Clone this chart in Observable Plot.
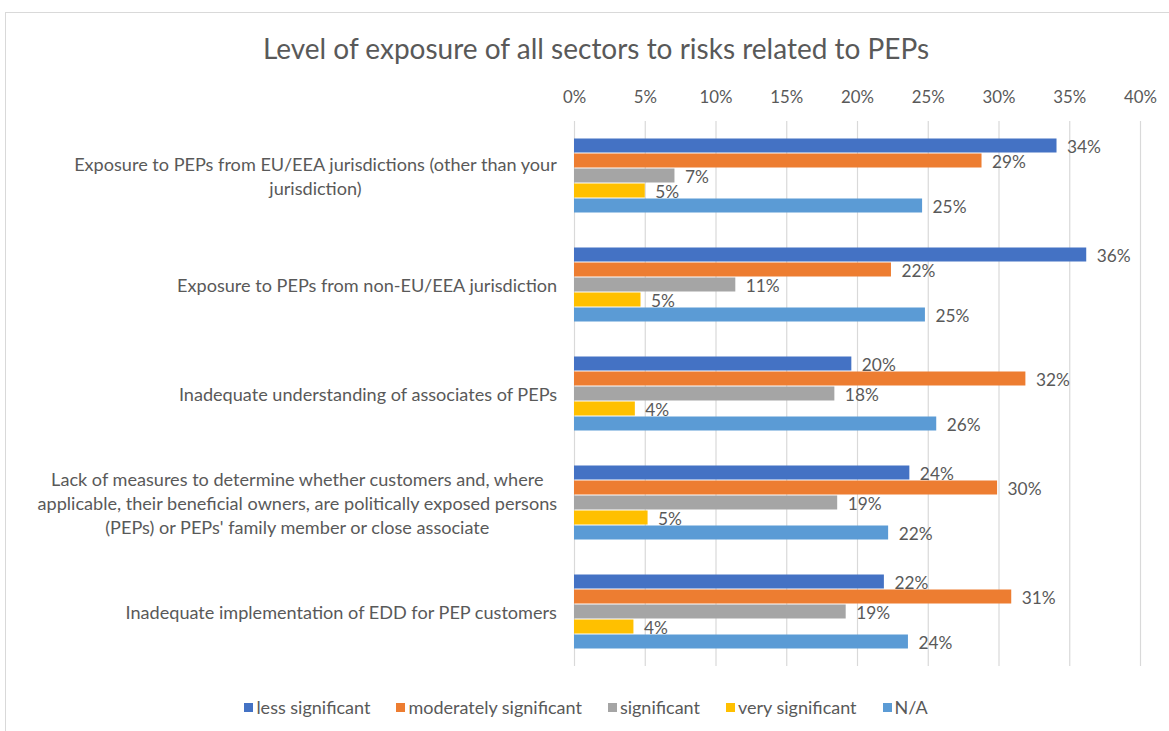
<!DOCTYPE html>
<html>
<head>
<meta charset="utf-8">
<script src="https://cdn.jsdelivr.net/npm/d3@7"></script>
<script src="https://cdn.jsdelivr.net/npm/@observablehq/plot@0.6"></script>
<style>
  body { margin: 0; background: #fff; font-family: Lato, sans-serif; }
  #frame { position: absolute; left: 5px; top: 12px; width: 1170px; height: 730px; border: 1px solid #d9d9d9; box-sizing: border-box; }
  #title { position: absolute; left: 0; top: 29px; width: 1192px; text-align: center; color: #595959; line-height: 38px; }
  #chart { position: absolute; left: 0; top: 75px; }
  #legend { position: absolute; left: 0; top: 695px; width: 1172px; display: flex; justify-content: center; gap: 26px; color: #595959; line-height: 24px; }
  #legend span.item { display: flex; align-items: center; gap: 3px; }
  #legend span.sw { width: 9px; height: 9px; display: inline-block; }
</style>
</head>
<body>
<div id="frame"></div>
<div id="title">Level of exposure of all sectors to risks related to PEPs</div>
<div id="chart"></div>
<div id="legend"></div>
<script>
const categories = [
  "Exposure to PEPs from EU/EEA jurisdictions (other than your jurisdiction)",
  "Exposure to PEPs from non-EU/EEA jurisdiction",
  "Inadequate understanding of associates of PEPs",
  "Lack of measures to determine whether customers and, where applicable, their beneficial owners, are politically exposed persons (PEPs) or PEPs' family member or close associate",
  "Inadequate implementation of EDD for PEP customers"
];
const categoryLines = [
  ["Exposure to PEPs from EU/EEA jurisdictions (other than your", "jurisdiction)"],
  ["Exposure to PEPs from non-EU/EEA jurisdiction"],
  ["Inadequate understanding of associates of PEPs"],
  ["Lack of measures to determine whether customers and, where", "applicable, their beneficial owners, are politically exposed persons", "(PEPs) or PEPs' family member or close associate"],
  ["Inadequate implementation of EDD for PEP customers"]
];
const series = ["less significant", "moderately significant", "significant", "very significant", "N/A"];
const colors = ["#4472C4", "#ED7D31", "#A5A5A5", "#FFC000", "#5B9BD5"];
// values in percent, per series, in category order
const lessSignificant = [34.1, 36.2, 19.6, 23.7, 21.9];
const moderatelySignificant = [28.8, 22.4, 31.9, 29.9, 30.9];
const significant = [7.1, 11.4, 18.4, 18.6, 19.2];
const verySignificant = [5.0, 4.7, 4.3, 5.2, 4.2];
const notApplicable = [24.6, 24.8, 25.6, 22.2, 23.6];
const xTicks = [0, 5, 10, 15, 20, 25, 30, 35, 40];

const seriesValues = [lessSignificant, moderatelySignificant, significant, verySignificant, notApplicable];
const data = [];
categories.forEach((c, i) => {
  series.forEach((s, j) => data.push({cat: c, series: s, value: seriesValues[j][i]}));
});

const FONT = 'Lato, sans-serif';
const ctx = document.createElement("canvas").getContext("2d");
function fit(text, target) {
  ctx.font = `100px ${FONT}`;
  return Math.round(100 * target / ctx.measureText(text).width * 10) / 10;
}
const titleSize = fit("Level of exposure of all sectors to risks related to PEPs", 668);
const catSize = fit("Inadequate implementation of EDD for PEP customers", 433);
const tickSize = fit("35%", 33);
const valueSize = fit("34%", 34);
const legendSize = fit("less significant", 114);

document.getElementById("title").style.fontSize = titleSize + "px";
document.getElementById("legend").style.fontSize = legendSize + "px";

ctx.font = `${catSize}px ${FONT}`;
const blockWidths = categoryLines.map(lines => Math.max(...lines.map(l => ctx.measureText(l).width)));

const labelMarks = categories.map((c, i) => Plot.text([c], {
  fy: d => d,
  frameAnchor: "left",
  text: () => categoryLines[i].join("\n"),
  textAnchor: "middle",
  dx: -(17 + blockWidths[i] / 2),
  dy: -1,
  lineHeight: 24 / catSize,
  fontSize: catSize,
  fill: "#595959"
}));

const chart = Plot.plot({
  width: 1169,
  height: 611,
  marginTop: 45,
  marginBottom: 20,
  marginLeft: 574,
  marginRight: 29,
  style: {fontFamily: FONT, fontSize: tickSize + "px", color: "#595959", background: "transparent"},
  x: {domain: [0, 40], ticks: xTicks, tickFormat: d => d + "%", axis: "top", tickSize: 0, tickPadding: 19, label: null},
  y: {domain: series, paddingInner: 0, paddingOuter: 0.91, axis: null},
  fy: {domain: categories, padding: 0, axis: null},
  color: {domain: series, range: colors},
  marks: [
    Plot.gridX(xTicks, {stroke: "#d9d9d9", strokeOpacity: 1, strokeWidth: 1.2}),
    Plot.barX(data, {fy: "cat", y: "series", x: "value", fill: "series", insetTop: 0.5, insetBottom: 0.5}),
    Plot.text(data, {fy: "cat", y: "series", x: "value", text: d => Math.round(d.value) + "%", dx: 10, dy: 1.5, textAnchor: "start", fill: "#595959", fontSize: valueSize}),
    ...labelMarks
  ]
});
document.getElementById("chart").appendChild(chart);

const legend = document.getElementById("legend");
series.forEach((s, j) => {
  const item = document.createElement("span");
  item.className = "item";
  const sw = document.createElement("span");
  sw.className = "sw";
  sw.style.background = colors[j];
  const t = document.createElement("span");
  t.textContent = s;
  item.appendChild(sw);
  item.appendChild(t);
  legend.appendChild(item);
});
</script>
</body>
</html>
